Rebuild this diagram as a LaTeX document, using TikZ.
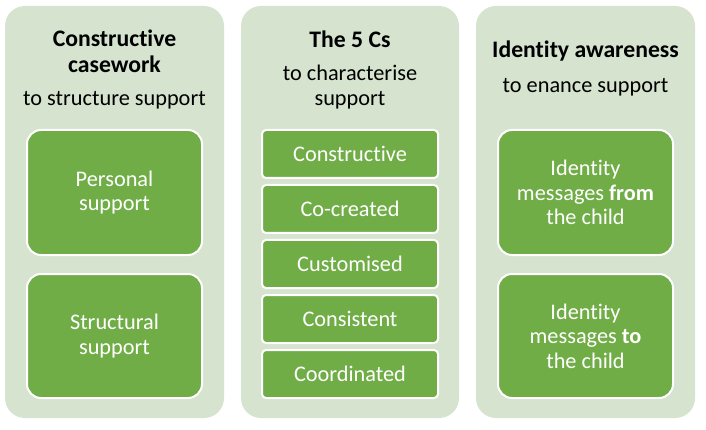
\documentclass[tikz,border=0pt]{standalone}
\usepackage{fontspec}
\setmainfont[Ligatures={NoCommon}]{Carlito}
\definecolor{outerg}{HTML}{D5E3CF}
\definecolor{innerg}{HTML}{70AD47}
\begin{document}
\begin{tikzpicture}[x=1pt,y=-1pt,
  panel/.style={fill=outerg,draw=none,rounded corners=20pt},
  bigbox/.style={fill=innerg,draw=white,line width=2pt,rounded corners=14pt},
  smallbox/.style={fill=innerg,draw=white,line width=2pt,rounded corners=4pt},
  wtext/.style={text=white,font=\fontsize{22.3}{24.5}\selectfont,align=center},
  btext/.style={text=black,font=\fontsize{22.3}{25}\selectfont,align=center},
  ttext/.style={text=black,font=\fontsize{23.7}{26}\selectfont\bfseries,align=center}]
\useasboundingbox (0,0) rectangle (706,430);
\fill[white] (0,0) rectangle (706,430);
% panels
\path[panel] (5,6) rectangle (224,418);
\path[panel] (241,6) rectangle (459,418);
\path[panel] (476,6) rectangle (695,418);
% column 1
\node[ttext] (t1) at (114.5,51) {Constructive\\casework};
\node[btext] (s1) at (114.5,100) {to structure support};
\draw[bigbox] (27,130) rectangle (202,255);
\node[wtext] (p1) at (114.5,192.5) {Personal\\support};
\draw[bigbox] (27,274) rectangle (202,398);
\node[wtext] (p2) at (114.5,336) {Structural\\support};
% column 2
\node[ttext] (t2) at (350,39) {The 5 Cs};
\node[btext] (s2) at (350,87) {to characterise\\support};
\draw[smallbox] (262,130) rectangle (438,178);
\node[wtext] (c1) at (350,154) {Constructive};
\draw[smallbox] (262,185) rectangle (438,233);
\node[wtext] (c2) at (350,209) {Co-created};
\draw[smallbox] (262,240) rectangle (438,288);
\node[wtext] (c3) at (350,264) {Customised};
\draw[smallbox] (262,295) rectangle (438,343);
\node[wtext] (c4) at (350,319) {Consistent};
\draw[smallbox] (262,350) rectangle (438,398);
\node[wtext] (c5) at (350,374) {Coordinated};
% column 3
\node[ttext] (t3) at (585.5,51) {Identity awareness};
\node[btext] (s3) at (585.5,87) {to enance support};
\draw[bigbox] (498,130) rectangle (673,255);
\node[wtext] (i1) at (585.5,192.5) {Identity\\messages \textbf{from}\\the child};
\draw[bigbox] (498,274) rectangle (673,398);
\node[wtext] (i2) at (585.5,336) {Identity\\messages \textbf{to}\\the child};
\end{tikzpicture}
\end{document}
